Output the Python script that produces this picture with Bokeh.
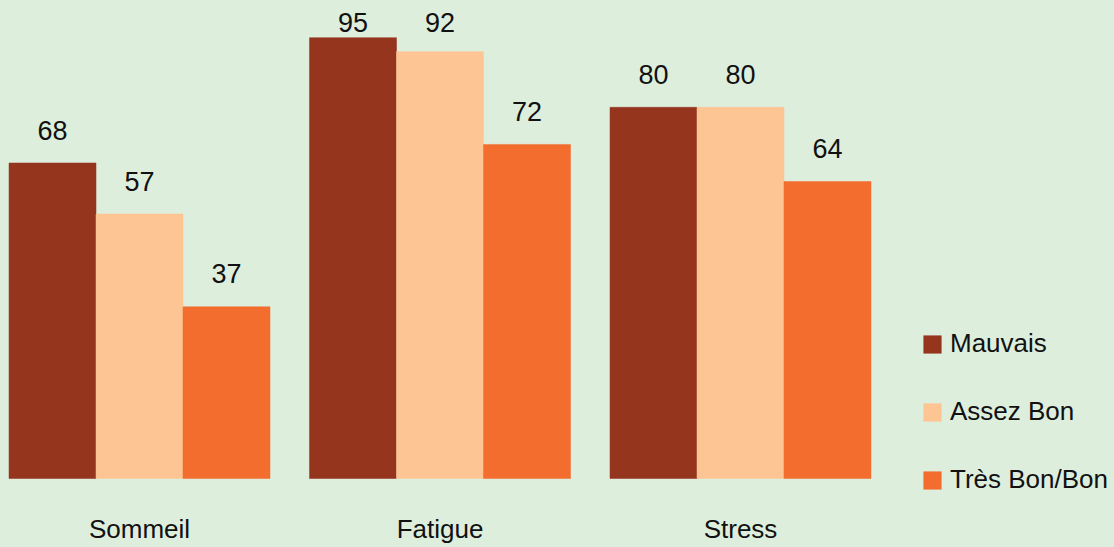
import numpy as np
from bokeh.plotting import figure
from bokeh.models import ColumnDataSource, Range1d, Legend, LegendItem
from bokeh.core.properties import value
from bokeh.embed import file_html
from bokeh.resources import INLINE

categories = ["Sommeil", "Fatigue", "Stress"]
series = ["Mauvais", "Assez Bon", "Très Bon/Bon"]
mauvais = [68, 95, 80]
assez_bon = [57, 92, 80]
tres_bon = [37, 72, 64]
colors = ["#95351e", "#fdc593", "#f26d2e"]

BG = "#deeedd"
FONT = "Liberation Sans"

p = figure(width=1114, height=547, output_backend="svg", toolbar_location=None,
           x_range=Range1d(-0.4626, 3.2446), y_range=Range1d(-14.87, 103.02),
           min_border=0, outline_line_color=None,
           background_fill_color=BG, border_fill_color=BG)
p.xaxis.visible = False
p.yaxis.visible = False
p.grid.visible = False

bw = 0.2895
idx = np.arange(len(categories))
items = []
for k, (name, vals, col) in enumerate(zip(series, [mauvais, assez_bon, tres_bon], colors)):
    v = np.array(vals, dtype=float)
    x = idx + (k - 1) * bw
    src = ColumnDataSource(dict(x=x, top=v, lab=[str(int(a)) for a in v],
                                ly=np.minimum(v + 7.1, 98.3)))
    r = p.vbar(x="x", top="top", bottom=0, width=bw, source=src,
               fill_color=col, line_color=col, line_width=0.5)
    items.append(LegendItem(label=name, renderers=[r]))
    p.text(x="x", y="ly", text="lab", source=src, text_align="center",
           text_baseline="middle", text_font=value(FONT),
           text_font_size="27px", text_color="#111111")

csrc = ColumnDataSource(dict(x=idx, y=np.full(len(categories), -10.78), t=categories))
p.text(x="x", y="y", text="t", source=csrc, text_align="center",
       text_baseline="middle", text_font=value(FONT), text_font_size="26px",
       text_color="#111111")

legend = Legend(items=items, location=(921, 52), orientation="vertical",
                glyph_width=22, glyph_height=22, label_standoff=7,
                label_text_font=FONT, label_text_font_size="26px",
                label_text_color="#111111", spacing=37, padding=0, margin=0,
                border_line_color=None, background_fill_alpha=0)
p.add_layout(legend, "center")

html = file_html(p, INLINE)
html = html.replace("<head>", "<head><style>html,body{background:%s;margin:0;padding:0;overflow:hidden;}</style>" % BG, 1)
open("out.html", "w").write(html)
